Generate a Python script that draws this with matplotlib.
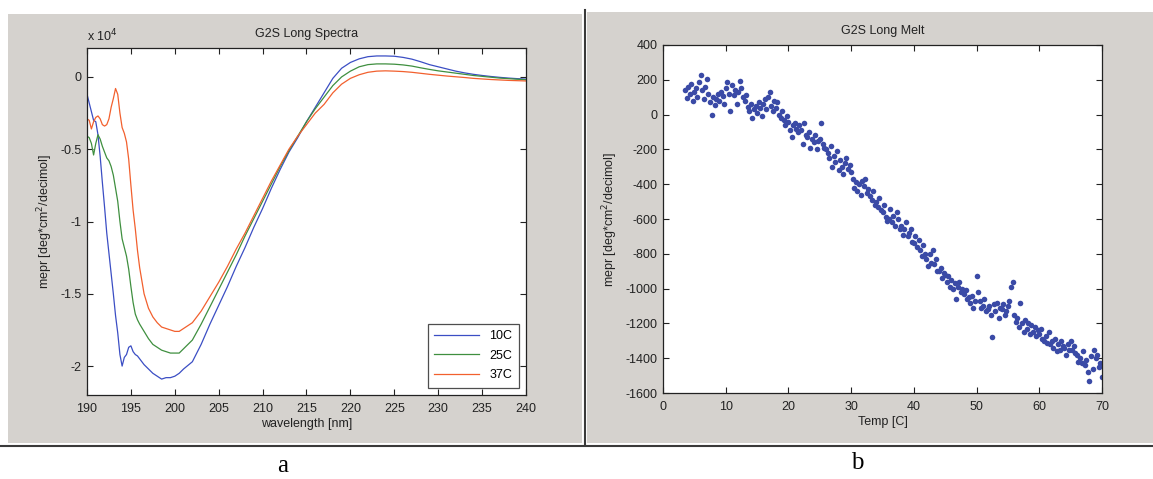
"""
G2S long: CD spectra (a) and melt curve (b), matlab style screenshot
"""

import matplotlib
matplotlib.use("Agg")
import matplotlib.pyplot as plt
from matplotlib.patches import Rectangle
from matplotlib.lines import Line2D
from matplotlib.ticker import FormatStrFormatter

plt.rcParams['font.family'] = ['Liberation Sans', 'DejaVu Sans']
plt.rcParams['axes.unicode_minus'] = False

# panel a: mean residue ellipticity, units of 1e4
wavelength = [190, 190.25, 190.5, 190.75, 191, 191.25, 191.5, 191.75, 192, 192.25,
              192.5, 192.75, 193, 193.25, 193.5, 193.75, 194, 194.25, 194.5, 194.75,
              195, 195.25, 195.5, 195.75, 196, 196.5, 197, 197.5, 198, 198.5,
              199, 199.5, 200, 200.5, 201, 202, 203, 204, 205, 206,
              207, 208, 209, 210, 211, 212, 213, 214, 215, 216,
              217, 218, 219, 220, 221, 222, 223, 224, 225, 226,
              227, 228, 229, 230, 231, 232, 233, 234, 235, 236,
              237, 238, 239, 240]

spec_10c = [-0.12, -0.18, -0.24, -0.30, -0.31, -0.40, -0.55, -0.73, -0.90, -1.08,
            -1.22, -1.36, -1.50, -1.65, -1.77, -1.92, -2.00, -1.94, -1.92, -1.87,
            -1.86, -1.90, -1.92, -1.93, -1.95, -1.99, -2.02, -2.05, -2.07, -2.09,
            -2.08, -2.08, -2.07, -2.05, -2.02, -1.97, -1.85, -1.71, -1.58, -1.45,
            -1.31, -1.18, -1.04, -0.91, -0.77, -0.64, -0.52, -0.42, -0.31, -0.21,
            -0.11, -0.01, 0.06, 0.10, 0.125, 0.14, 0.145, 0.145, 0.143, 0.135,
            0.123, 0.105, 0.085, 0.07, 0.055, 0.04, 0.028, 0.018, 0.01, 0.003,
            -0.003, -0.008, -0.012, -0.015]

spec_25c = [-0.41, -0.42, -0.46, -0.54, -0.46, -0.40, -0.43, -0.48, -0.52, -0.56,
            -0.58, -0.62, -0.68, -0.77, -0.86, -1.00, -1.12, -1.18, -1.24, -1.33,
            -1.45, -1.56, -1.64, -1.68, -1.71, -1.76, -1.81, -1.85, -1.87, -1.89,
            -1.90, -1.91, -1.91, -1.91, -1.88, -1.82, -1.71, -1.59, -1.47, -1.35,
            -1.23, -1.10, -0.98, -0.86, -0.74, -0.62, -0.51, -0.41, -0.31, -0.22,
            -0.14, -0.06, 0.0, 0.04, 0.07, 0.085, 0.09, 0.09, 0.088, 0.083,
            0.075, 0.063, 0.052, 0.042, 0.034, 0.026, 0.018, 0.01, 0.004, -0.002,
            -0.008, -0.012, -0.016, -0.02]

spec_37c = [-0.29, -0.30, -0.36, -0.31, -0.28, -0.27, -0.29, -0.33, -0.34, -0.33,
            -0.29, -0.21, -0.15, -0.08, -0.12, -0.25, -0.35, -0.39, -0.45, -0.57,
            -0.75, -0.92, -1.05, -1.20, -1.32, -1.50, -1.60, -1.66, -1.70, -1.73,
            -1.74, -1.75, -1.76, -1.76, -1.74, -1.70, -1.62, -1.52, -1.42, -1.31,
            -1.19, -1.08, -0.96, -0.84, -0.72, -0.61, -0.50, -0.41, -0.33, -0.25,
            -0.19, -0.11, -0.05, -0.01, 0.015, 0.032, 0.04, 0.042, 0.04, 0.037,
            0.032, 0.025, 0.018, 0.012, 0.006, 0.001, -0.004, -0.01, -0.014, -0.018,
            -0.021, -0.024, -0.026, -0.028]

spec_labels = ['10C', '25C', '37C']
spec_colors = ['#3b4ec4', '#3f8f3f', '#f2602e']

# panel b: melt curve
temp_c = [3.5, 3.75,
          4, 4.25, 4.5, 4.75, 5, 5.25, 5.5, 5.75, 6, 6.25, 6.5, 6.75,
          7, 7.25, 7.5, 7.75, 8, 8.25, 8.5, 8.75, 9, 9.25, 9.5, 9.75,
          10, 10.25, 10.5, 10.75, 11, 11.25, 11.5, 11.75, 12, 12.25, 12.5, 12.75,
          13, 13.25, 13.5, 13.75, 14, 14.25, 14.5, 14.75, 15, 15.25, 15.5, 15.75,
          16, 16.25, 16.5, 16.75, 17, 17.25, 17.5, 17.75, 18, 18.25, 18.5, 18.75,
          19, 19.25, 19.5, 19.75, 20, 20.25, 20.5, 20.75, 21, 21.25, 21.5, 21.75,
          22, 22.25, 22.5, 22.75, 23, 23.25, 23.5, 23.75, 24, 24.25, 24.5, 24.75,
          25, 25.25, 25.5, 25.75, 26, 26.25, 26.5, 26.75, 27, 27.25, 27.5, 27.75,
          28, 28.25, 28.5, 28.75, 29, 29.25, 29.5, 29.75, 30, 30.25, 30.5, 30.75,
          31, 31.25, 31.5, 31.75, 32, 32.25, 32.5, 32.75, 33, 33.25, 33.5, 33.75,
          34, 34.25, 34.5, 34.75, 35, 35.25, 35.5, 35.75, 36, 36.25, 36.5, 36.75,
          37, 37.25, 37.5, 37.75, 38, 38.25, 38.5, 38.75, 39, 39.25, 39.5, 39.75,
          40, 40.25, 40.5, 40.75, 41, 41.25, 41.5, 41.75, 42, 42.25, 42.5, 42.75,
          43, 43.25, 43.5, 43.75, 44, 44.25, 44.5, 44.75, 45, 45.25, 45.5, 45.75,
          46, 46.25, 46.5, 46.75, 47, 47.25, 47.5, 47.75, 48, 48.25, 48.5, 48.75,
          49, 49.25, 49.5, 49.75, 50, 50.25, 50.5, 50.75, 51, 51.25, 51.5, 51.75,
          52, 52.25, 52.5, 52.75, 53, 53.25, 53.5, 53.75, 54, 54.25, 54.5, 54.75,
          55, 55.25, 55.5, 55.75, 56, 56.25, 56.5, 56.75, 57, 57.25, 57.5, 57.75,
          58, 58.25, 58.5, 58.75, 59, 59.25, 59.5, 59.75, 60, 60.25, 60.5, 60.75,
          61, 61.25, 61.5, 61.75, 62, 62.25, 62.5, 62.75, 63, 63.25, 63.5, 63.75,
          64, 64.25, 64.5, 64.75, 65, 65.25, 65.5, 65.75, 66, 66.25, 66.5, 66.75,
          67, 67.25, 67.5, 67.75, 68, 68.25, 68.5, 68.75, 69, 69.25, 69.5, 69.75,
          70]

melt_mepr = [140, 95,
             160, 120, 175, 80, 130, 150, 100, 185, 225, 140, 90, 160,
             205, 120, 70, 0, 100, 55, 90, 120, 80, 130, 105, 60,
             150, 190, 120, 20, 170, 110, 140, 60, 130, 195, 150, 100,
             80, 110, 45, 20, 60, -20, 30, 50, 10, 70, 40, -10,
             60, 90, 30, 100, 130, 50, 20, 80, 40, 70, 0, -20,
             20, -30, -60, -10, -40, -90, -130, -60, -50, -80, -100, -60,
             -90, -170, -50, -120, -130, -100, -190, -140, -160, -120, -200, -150,
             -140, -50, -170, -190, -200, -220, -250, -180, -300, -240, -270, -210,
             -320, -260, -300, -340, -280, -250, -310, -290, -330, -370, -420, -390,
             -440, -400, -460, -380, -410, -370, -450, -430, -470, -490, -440, -520,
             -500, -530, -480, -550, -560, -520, -590, -610, -600, -540, -620, -580,
             -640, -560, -600, -660, -640, -690, -660, -620, -700, -680, -660, -730,
             -740, -700, -760, -720, -780, -810, -750, -800, -830, -870, -800, -850,
             -780, -860, -830, -900, -900, -880, -940, -910, -920, -960, -930, -990,
             -950, -1000, -970, -1060, -990, -960, -1020, -1000, -1030, -1010, -1060, -1050,
             -1080, -1040, -1110, -1070, -930, -1020, -1070, -1110, -1100, -1060, -1130, -1120,
             -1100, -1150, -1280, -1090, -1130, -1080, -1170, -1110, -1120, -1090, -1150, -1130,
             -1100, -1070, -990, -960, -1150, -1190, -1170, -1220, -1080, -1200, -1250, -1180,
             -1230, -1200, -1260, -1210, -1250, -1220, -1270, -1240, -1260, -1230, -1290, -1300,
             -1270, -1310, -1250, -1320, -1300, -1340, -1290, -1360, -1320, -1350, -1300, -1330,
             -1340, -1380, -1320, -1350, -1300, -1350, -1330, -1370, -1380, -1420, -1400, -1430,
             -1360, -1440, -1410, -1480, -1530, -1390, -1460, -1350, -1400, -1380, -1450, -1430,
             -1510]

W, H = 1153, 479
fig = plt.figure(figsize=(W / 100, H / 100), dpi=100)
fig.patch.set_facecolor('white')

bg = '#d5d2ce'
fig.patches.append(Rectangle((8 / W, 1 - 443 / H), (582 - 8) / W, (443 - 14) / H,
                             transform=fig.transFigure, facecolor=bg, edgecolor='none', zorder=-5))
fig.patches.append(Rectangle((587 / W, 1 - 443 / H), (W - 587) / W, (443 - 12) / H,
                             transform=fig.transFigure, facecolor=bg, edgecolor='none', zorder=-5))
fig.lines.append(Line2D([584.5 / W, 584.5 / W], [1 - 445 / H, 1 - 10 / H],
                        transform=fig.transFigure, color='#3a3a3a', lw=1.5, zorder=-4))
fig.lines.append(Line2D([0, 1], [1 - 446 / H, 1 - 446 / H],
                        transform=fig.transFigure, color='#3a3a3a', lw=1.5, zorder=-4))

fs = 9


def style(ax):
    ax.set_facecolor('white')
    ax.tick_params(direction='in', top=True, right=True, labelsize=fs,
                   length=4, width=0.8, colors='#222222')
    ax.tick_params(axis='x', pad=6)
    ax.tick_params(axis='y', pad=4)
    for s in ax.spines.values():
        s.set_linewidth(0.9)
        s.set_color('#222222')


# ---- panel a
ax1 = fig.add_axes([87 / W, 1 - 395 / H, (526 - 87) / W, (395 - 48) / H])
for ys, lab, c in zip([spec_10c, spec_25c, spec_37c], spec_labels, spec_colors):
    ax1.plot(wavelength, ys, color=c, lw=0.9, label=lab)
ax1.set_xlim(190, 240)
ax1.set_ylim(-2.2, 0.2)
ax1.set_xticks(range(190, 241, 5))
ax1.set_yticks([0, -0.5, -1, -1.5, -2])
ax1.yaxis.set_major_formatter(FormatStrFormatter('%g'))
style(ax1)
ax1.set_title('G2S Long Spectra', fontsize=fs, pad=8, color='#222222')
ax1.set_xlabel('wavelength [nm]', fontsize=fs, labelpad=2, color='#222222')
ax1.set_ylabel('mepr [deg*cm$^2$/decimol]', fontsize=fs, labelpad=4, color='#222222')
ax1.text(0, 1.012, 'x 10$^4$', transform=ax1.transAxes, fontsize=fs,
         ha='left', va='bottom', color='#222222')
leg = ax1.legend(loc='lower right', fontsize=fs, frameon=True, fancybox=False,
                 edgecolor='#222222', handlelength=3.6, borderaxespad=0.6,
                 labelspacing=0.6, borderpad=0.5)
leg.get_frame().set_linewidth(0.9)

# ---- panel b
ax2 = fig.add_axes([663 / W, 1 - 393 / H, (1102 - 663) / W, (393 - 45) / H])
ax2.plot(temp_c, melt_mepr, 'o', color='#3a4aa6', markersize=4.0, markeredgewidth=0)
ax2.set_xlim(0, 70)
ax2.set_ylim(-1600, 400)
ax2.set_xticks(range(0, 71, 10))
ax2.set_yticks(range(-1600, 401, 200))
style(ax2)
ax2.set_title('G2S Long Melt', fontsize=fs, pad=8, color='#222222')
ax2.set_xlabel('Temp [C]', fontsize=fs, labelpad=2, color='#222222')
ax2.set_ylabel('mepr [deg*cm$^2$/decimol]', fontsize=fs, labelpad=4, color='#222222')

fig.text(283 / W, 1 - 466 / H, 'a', fontsize=18, family='Liberation Serif',
         ha='center', va='center')
fig.text(857 / W, 1 - 463 / H, 'b', fontsize=18, family='Liberation Serif',
         ha='center', va='center')

fig.savefig('out.png', dpi=100)
